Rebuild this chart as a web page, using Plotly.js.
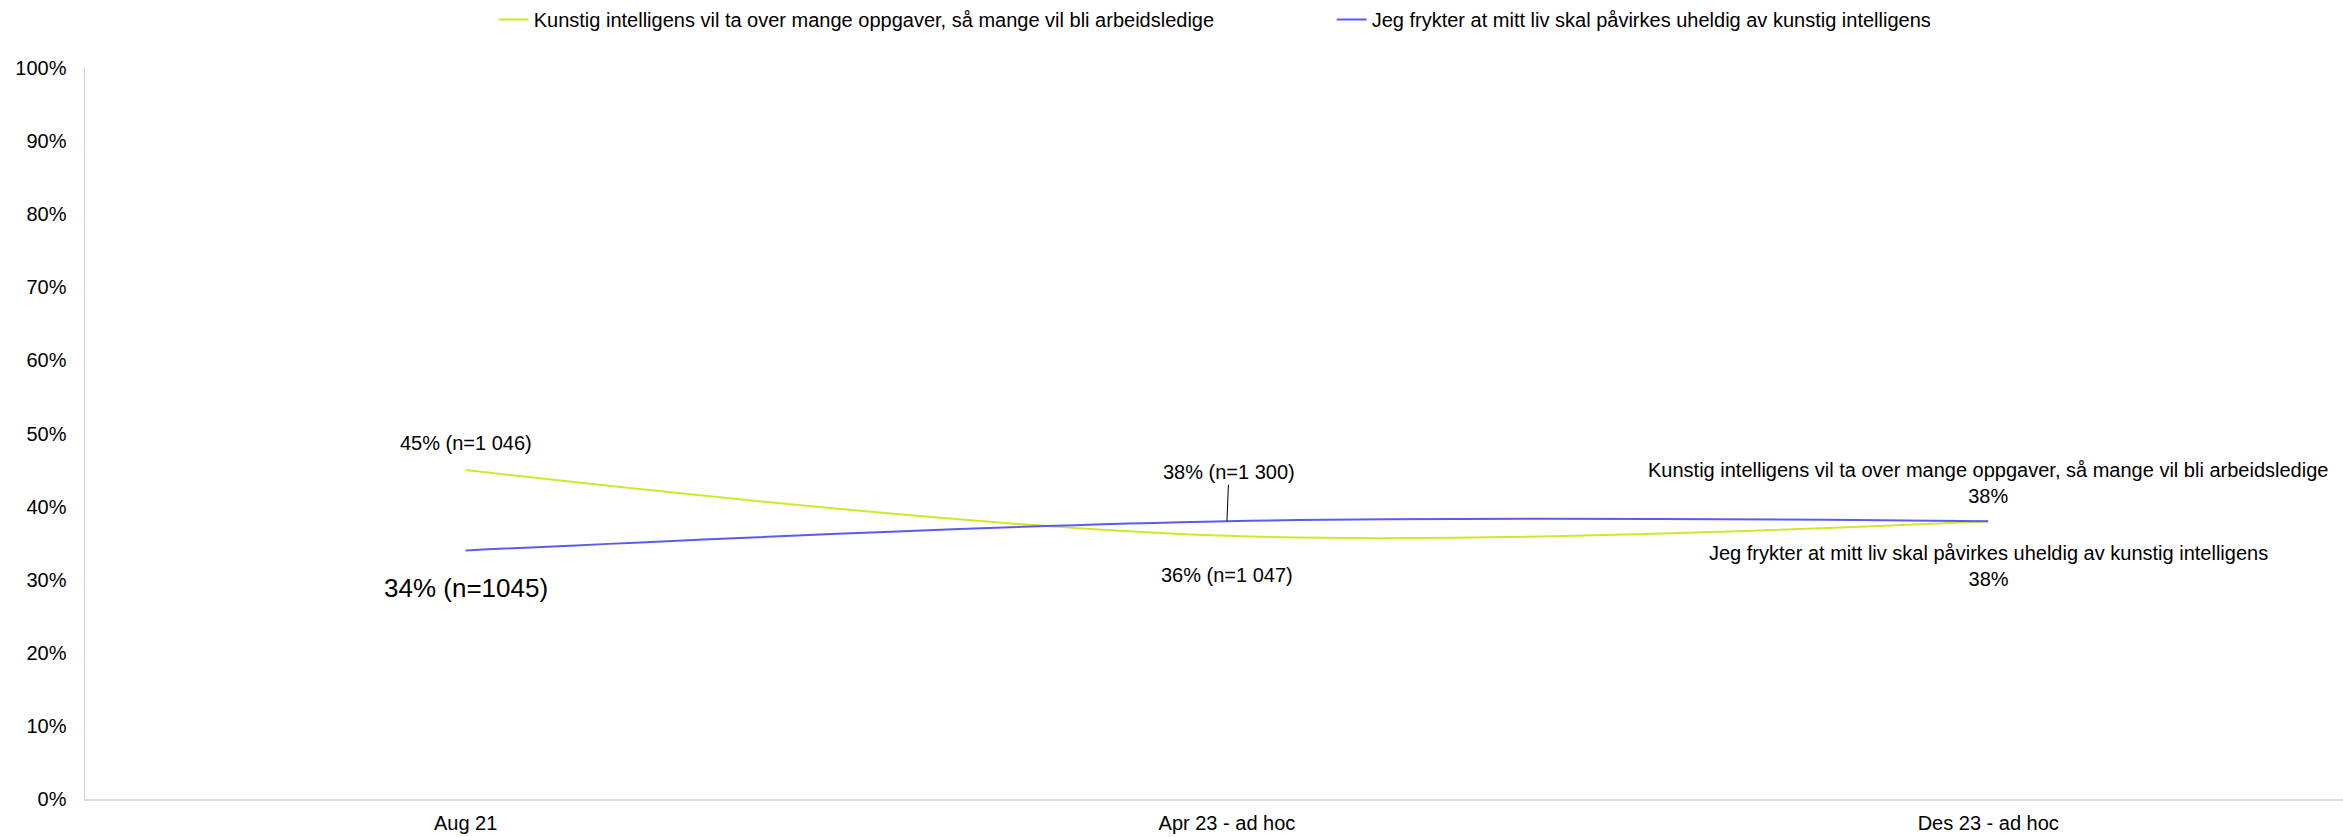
<!DOCTYPE html>
<html>
<head>
<meta charset="utf-8">
<script src="https://cdn.plot.ly/plotly-3.0.1.min.js"></script>
<style>
html,body{margin:0;padding:0;background:#fff;}
#chart{width:2343px;height:837px;}
</style>
</head>
<body>
<div id="chart"></div>
<script>
// ---- data ----
const categories = ["Aug 21", "Apr 23 - ad hoc", "Des 23 - ad hoc"];
const seriesNames = [
  "Kunstig intelligens vil ta over mange oppgaver, så mange vil bli arbeidsledige",
  "Jeg frykter at mitt liv skal påvirkes uheldig av kunstig intelligens"
];
const jobsValues = [45, 36, 38];
const fearValues = [34, 38, 38];
const jobsN = ["1 046", "1 047", null];
const fearN = ["1045", "1 300", null];
const yTickVals = [0, 10, 20, 30, 40, 50, 60, 70, 80, 90, 100];
const yTickText = yTickVals.map(v => v + "%");

const FONT = "Liberation Sans, Arial, sans-serif";
const yellow = "#d5e629";
const blue = "#5b5bf2";

const traces = [
  {
    x: categories, y: jobsValues, name: seriesNames[0], type: "scatter", mode: "lines",
    line: {color: yellow, width: 2, shape: "spline", smoothing: 1}, hoverinfo: "skip"
  },
  {
    x: categories, y: fearValues, name: seriesNames[1], type: "scatter", mode: "lines",
    line: {color: blue, width: 2, shape: "spline", smoothing: 1}, hoverinfo: "skip"
  }
];

const f20 = {family: FONT, size: 20, color: "#000"};
const annotations = [
  {x: categories[0], y: jobsValues[0], text: jobsValues[0] + "% (n=" + jobsN[0] + ")",
   showarrow: false, yshift: 27, font: f20},
  {x: categories[0], y: fearValues[0], text: fearValues[0] + "% (n=" + fearN[0] + ")",
   showarrow: false, yshift: -38, font: {family: FONT, size: 26, color: "#000"}},
  {x: categories[1], y: fearValues[1], text: fearValues[1] + "% (n=" + fearN[1] + ")",
   showarrow: true, arrowhead: 0, arrowwidth: 1, arrowcolor: "#000", ax: 2, ay: -49,
   standoff: 0, startstandoff: 0, font: f20},
  {x: categories[1], y: jobsValues[1], text: jobsValues[1] + "% (n=" + jobsN[1] + ")",
   showarrow: false, yshift: -39, font: f20},
  {x: categories[2], y: jobsValues[2], text: seriesNames[0] + "<br>" + jobsValues[2] + "%",
   showarrow: false, yshift: 38, font: f20},
  {x: categories[2], y: fearValues[2], text: seriesNames[1] + "<br>" + fearValues[2] + "%",
   showarrow: false, yshift: -45, font: f20}
];

const layout = {
  width: 2343, height: 837,
  margin: {l: 85, r: 0, t: 68, b: 38, pad: 0},
  paper_bgcolor: "#fff", plot_bgcolor: "#fff",
  font: {family: FONT, size: 20, color: "#000"},
  showlegend: true,
  legend: {
    orientation: "h", xref: "container", yref: "container",
    x: 0.2107, xanchor: "left", y: 1.0, yanchor: "top",
    entrywidth: 793, entrywidthmode: "pixels",
    font: {family: FONT, size: 20, color: "#000"},
    bgcolor: "rgba(0,0,0,0)", traceorder: "normal"
  },
  xaxis: {
    type: "category", range: [-0.5, 2.466],
    showgrid: false, zeroline: false,
    showline: true, linecolor: "#dadada", linewidth: 2,
    ticks: "", ticklabelstandoff: 5,
    tickfont: {family: FONT, size: 20, color: "#000"}
  },
  yaxis: {
    range: [0, 100], tickmode: "array", tickvals: yTickVals, ticktext: yTickText,
    showgrid: false, zeroline: false,
    showline: true, linecolor: "#c8d5e8", linewidth: 1.5,
    ticks: "", ticklabelstandoff: 13,
    tickfont: {family: FONT, size: 20, color: "#000"}
  },
  annotations: annotations
};

Plotly.newPlot("chart", traces, layout, {displayModeBar: false, staticPlot: true});
</script>
</body>
</html>
